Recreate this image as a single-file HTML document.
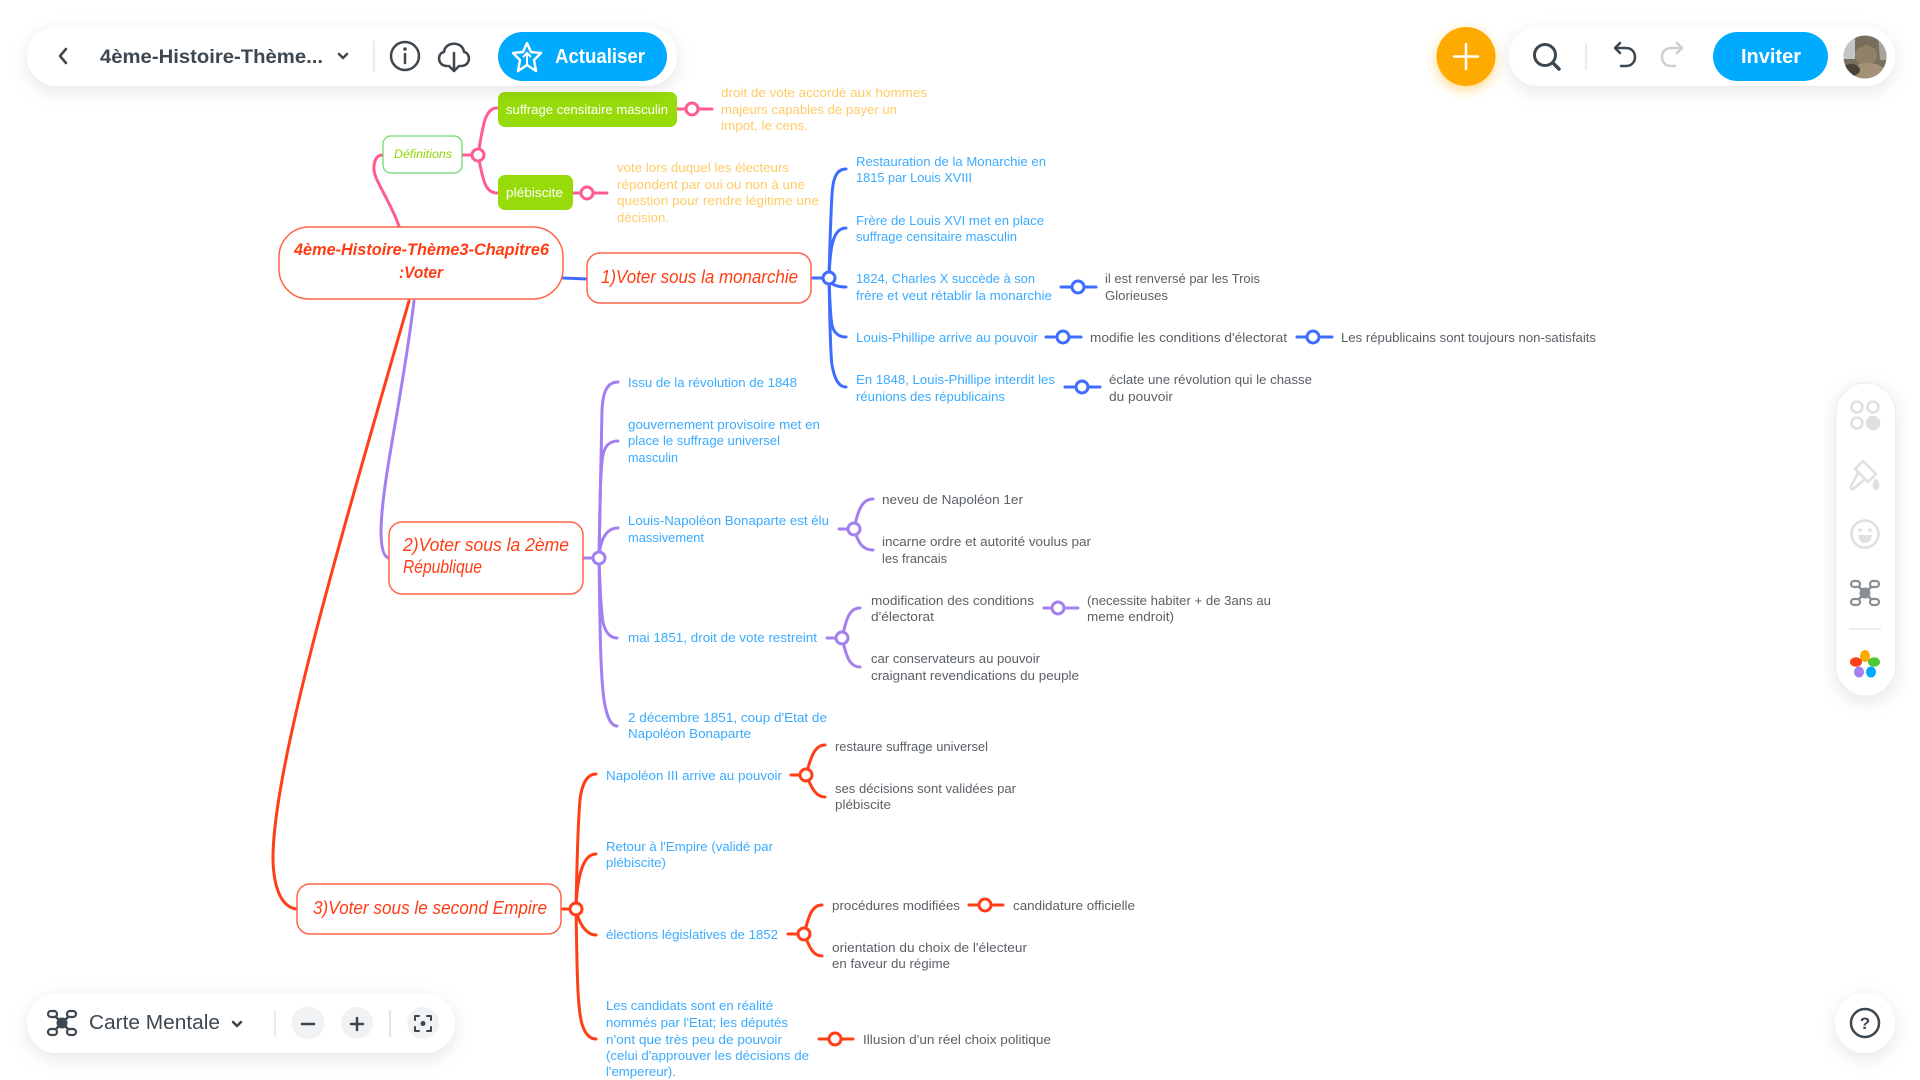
<!DOCTYPE html>
<html lang="fr">
<head>
<meta charset="utf-8">
<title>4ème-Histoire-Thème3-Chapitre6 :Voter</title>
<style>
html,body{margin:0;padding:0;background:#fff;width:1920px;height:1080px;overflow:hidden}
svg{display:block;position:absolute;left:0;top:0}
text{font-family:"Liberation Sans",sans-serif;font-size:13px}
.b{fill:#3aabff}.d{fill:#5a6066}.o{fill:#ffcb66}
.h{font-style:italic;fill:#ff3d14;font-size:18px}
.ln{fill:none;stroke-width:3;stroke-linecap:round}
.blue{stroke:#3f6dff}.pur{stroke:#a37ff0}.red{stroke:#ff3f17}.pink{stroke:#ff5c8f}
.j{fill:#fff;stroke-width:3}
.node{fill:#fff;stroke:#ff6547;stroke-width:1.5}
.ui{fill:none;stroke:#3d4750;stroke-width:2.5;stroke-linecap:round;stroke-linejoin:round}
</style>
</head>
<body>
<svg width="1920" height="1080" viewBox="0 0 1920 1080">
<defs>
<filter id="sh" x="-20%" y="-50%" width="140%" height="220%"><feDropShadow dx="0" dy="5" stdDeviation="9" flood-color="#000" flood-opacity=".1"/></filter>
<filter id="osh" x="-50%" y="-50%" width="200%" height="200%"><feDropShadow dx="0" dy="4" stdDeviation="6" flood-color="#ffaa00" flood-opacity=".45"/></filter>
<clipPath id="av"><circle cx="1865" cy="57" r="21.5"/></clipPath>
</defs>

<!-- main links -->
<path class="ln pink" d="M399,226 C388,196 372,178 374,166 Q375,155 383,155"/>
<path class="ln blue" d="M563,278 L587,279"/>
<path class="ln pur" d="M414,301 C402,400 382,480 381,530 Q381,557 389,558"/>
<path class="ln red" d="M409,301 C340,540 272,770 273,860 C274,895 285,908 297,909"/>

<!-- definitions group -->
<g>
<path class="ln pink" d="M462,155 L478,155"/>
<path class="ln pink" d="M478,155 C483,125 485,108 497,108"/>
<path class="ln pink" d="M478,155 C483,180 485,193 497,193"/>
<path class="ln pink" d="M677,109 L712,109"/>
<path class="ln pink" d="M573,193 L607,193"/>
<circle class="j pink" cx="478" cy="155" r="6"/>
<circle class="j pink" cx="692" cy="109" r="6"/>
<circle class="j pink" cx="587" cy="193" r="6"/>
</g>
<rect x="383" y="136" width="79" height="37" rx="8" fill="#fff" stroke="#6fd86f" stroke-width="1.3"/>
<text x="394" y="158" textLength="58" lengthAdjust="spacingAndGlyphs" font-style="italic" style="fill:#8fd400;font-size:12px">Définitions</text>
<rect x="498" y="92" width="179" height="35" rx="7" fill="#97dc0a"/>
<text x="506" y="114" textLength="162" lengthAdjust="spacingAndGlyphs" style="fill:#fff">suffrage censitaire masculin</text>
<rect x="498" y="175" width="75" height="35" rx="7" fill="#97dc0a"/>
<text x="506" y="197" textLength="57" lengthAdjust="spacingAndGlyphs" style="fill:#fff">plébiscite</text>
<g>
<text class="o" x="721" y="97" textLength="206" lengthAdjust="spacingAndGlyphs">droit de vote accordé aux hommes</text>
<text class="o" x="721" y="114" textLength="176" lengthAdjust="spacingAndGlyphs">majeurs capables de payer un</text>
<text class="o" x="721" y="130" textLength="87" lengthAdjust="spacingAndGlyphs">impot, le cens.</text>
</g>
<g>
<text class="o" x="617" y="172" textLength="172" lengthAdjust="spacingAndGlyphs">vote lors duquel les électeurs</text>
<text class="o" x="617" y="189" textLength="188" lengthAdjust="spacingAndGlyphs">répondent par oui ou non à une</text>
<text class="o" x="617" y="205" textLength="202" lengthAdjust="spacingAndGlyphs">question pour rendre légitime une</text>
<text class="o" x="617" y="222" textLength="52" lengthAdjust="spacingAndGlyphs">décision.</text>
</g>

<!-- root -->
<rect class="node" x="279" y="227" width="284" height="72" rx="30"/>
<g>
<text class="h" x="294" y="255" textLength="255" lengthAdjust="spacingAndGlyphs" font-weight="bold" style="font-size:17px">4ème-Histoire-Thème3-Chapitre6</text>
<text class="h" x="399" y="278" textLength="44" lengthAdjust="spacingAndGlyphs" font-weight="bold" style="font-size:17px">:Voter</text>
</g>

<!-- section 1 -->
<g>
<path class="ln blue" d="M811,278 L829,278"/>
<path class="ln blue" d="M829,278 C830,240 831,210 832,195 C833,175 838,169 846,169"/>
<path class="ln blue" d="M829,278 C830,250 832,228 846,228"/>
<path class="ln blue" d="M829,278 C830,284 836,287 846,287"/>
<path class="ln blue" d="M829,278 C830,300 830,315 832,325 C834,334 840,337 846,337"/>
<path class="ln blue" d="M829,278 C830,320 830,350 832,365 C835,382 840,387 846,387"/>
<path class="ln blue" d="M1061,287 L1096,287"/><circle class="j blue" cx="1078" cy="287" r="6"/>
<path class="ln blue" d="M1046,337 L1081,337"/><circle class="j blue" cx="1063" cy="337" r="6"/>
<path class="ln blue" d="M1297,337 L1332,337"/><circle class="j blue" cx="1313" cy="337" r="6"/>
<path class="ln blue" d="M1065,387 L1100,387"/><circle class="j blue" cx="1082" cy="387" r="6"/>
<circle class="j blue" cx="829" cy="278" r="6"/>
</g>
<rect class="node" x="587" y="253" width="224" height="50" rx="13"/>
<text class="h" x="601" y="283" textLength="197" lengthAdjust="spacingAndGlyphs">1)Voter sous la monarchie</text>
<text class="b" x="856" y="166" textLength="190" lengthAdjust="spacingAndGlyphs">Restauration de la Monarchie en</text>
<text class="b" x="856" y="182" textLength="116" lengthAdjust="spacingAndGlyphs">1815 par Louis XVIII</text>
<text class="b" x="856" y="225" textLength="188" lengthAdjust="spacingAndGlyphs">Frère de Louis XVI met en place</text>
<text class="b" x="856" y="241" textLength="161" lengthAdjust="spacingAndGlyphs">suffrage censitaire masculin</text>
<text class="b" x="856" y="283" textLength="179" lengthAdjust="spacingAndGlyphs">1824, Charles X succède à son</text>
<text class="b" x="856" y="300" textLength="196" lengthAdjust="spacingAndGlyphs">frère et veut rétablir la monarchie</text>
<text class="b" x="856" y="342" textLength="182" lengthAdjust="spacingAndGlyphs">Louis-Phillipe arrive au pouvoir</text>
<text class="b" x="856" y="384" textLength="199" lengthAdjust="spacingAndGlyphs">En 1848, Louis-Phillipe interdit les</text>
<text class="b" x="856" y="401" textLength="149" lengthAdjust="spacingAndGlyphs">réunions des républicains</text>
<text class="d" x="1105" y="283" textLength="155" lengthAdjust="spacingAndGlyphs">il est renversé par les Trois</text>
<text class="d" x="1105" y="300" textLength="63" lengthAdjust="spacingAndGlyphs">Glorieuses</text>
<text class="d" x="1090" y="342" textLength="197" lengthAdjust="spacingAndGlyphs">modifie les conditions d'électorat</text>
<text class="d" x="1341" y="342" textLength="255" lengthAdjust="spacingAndGlyphs">Les républicains sont toujours non-satisfaits</text>
<text class="d" x="1109" y="384" textLength="203" lengthAdjust="spacingAndGlyphs">éclate une révolution qui le chasse</text>
<text class="d" x="1109" y="401" textLength="64" lengthAdjust="spacingAndGlyphs">du pouvoir</text>

<!-- section 2 -->
<g>
<path class="ln pur" d="M583,558 L599,558"/>
<path class="ln pur" d="M599,558 C600,490 601,440 602,410 C603,390 608,382 618,382"/>
<path class="ln pur" d="M599,558 C600,510 600,470 603,455 C605,445 610,441 618,441"/>
<path class="ln pur" d="M599,558 C600,540 606,528 618,528"/>
<path class="ln pur" d="M599,558 C600,590 601,610 603,622 C605,632 610,638 617,638"/>
<path class="ln pur" d="M599,558 C600,620 600,670 604,700 C607,718 611,726 617,726"/>
<path class="ln pur" d="M839,529 L854,529"/>
<path class="ln pur" d="M854,529 C858,510 862,499 873,499"/>
<path class="ln pur" d="M854,529 C858,542 862,550 873,550"/>
<path class="ln pur" d="M827,638 L842,638"/>
<path class="ln pur" d="M842,638 C846,620 849,608 860,608"/>
<path class="ln pur" d="M842,638 C846,655 849,667 860,667"/>
<path class="ln pur" d="M1044,608 L1078,608"/><circle class="j pur" cx="1058" cy="608" r="6"/>
<circle class="j pur" cx="599" cy="558" r="6"/>
<circle class="j pur" cx="854" cy="529" r="6"/>
<circle class="j pur" cx="842" cy="638" r="6"/>
</g>
<rect class="node" x="389" y="522" width="194" height="72" rx="13"/>
<g>
<text class="h" x="403" y="551" textLength="166" lengthAdjust="spacingAndGlyphs">2)Voter sous la 2ème</text>
<text class="h" x="403" y="573" textLength="79" lengthAdjust="spacingAndGlyphs">République</text>
</g>
<text class="b" x="628" y="387" textLength="169" lengthAdjust="spacingAndGlyphs">Issu de la révolution de 1848</text>
<text class="b" x="628" y="429" textLength="192" lengthAdjust="spacingAndGlyphs">gouvernement provisoire met en</text>
<text class="b" x="628" y="445" textLength="152" lengthAdjust="spacingAndGlyphs">place le suffrage universel</text>
<text class="b" x="628" y="462" textLength="50" lengthAdjust="spacingAndGlyphs">masculin</text>
<text class="b" x="628" y="525" textLength="201" lengthAdjust="spacingAndGlyphs">Louis-Napoléon Bonaparte est élu</text>
<text class="b" x="628" y="542" textLength="76" lengthAdjust="spacingAndGlyphs">massivement</text>
<text class="b" x="628" y="642" textLength="189" lengthAdjust="spacingAndGlyphs">mai 1851, droit de vote restreint</text>
<text class="b" x="628" y="722" textLength="199" lengthAdjust="spacingAndGlyphs">2 décembre 1851, coup d'Etat de</text>
<text class="b" x="628" y="738" textLength="123" lengthAdjust="spacingAndGlyphs">Napoléon Bonaparte</text>
<text class="d" x="882" y="504" textLength="141" lengthAdjust="spacingAndGlyphs">neveu de Napoléon 1er</text>
<text class="d" x="882" y="546" textLength="209" lengthAdjust="spacingAndGlyphs">incarne ordre et autorité voulus par</text>
<text class="d" x="882" y="563" textLength="65" lengthAdjust="spacingAndGlyphs">les francais</text>
<text class="d" x="871" y="605" textLength="163" lengthAdjust="spacingAndGlyphs">modification des conditions</text>
<text class="d" x="871" y="621" textLength="63" lengthAdjust="spacingAndGlyphs">d'électorat</text>
<text class="d" x="1087" y="605" textLength="184" lengthAdjust="spacingAndGlyphs">(necessite habiter + de 3ans au</text>
<text class="d" x="1087" y="621" textLength="87" lengthAdjust="spacingAndGlyphs">meme endroit)</text>
<text class="d" x="871" y="663" textLength="169" lengthAdjust="spacingAndGlyphs">car conservateurs au pouvoir</text>
<text class="d" x="871" y="680" textLength="208" lengthAdjust="spacingAndGlyphs">craignant revendications du peuple</text>

<!-- section 3 -->
<g>
<path class="ln red" d="M561,909 L576,909"/>
<path class="ln red" d="M576,909 C577,860 578,820 580,800 C582,782 588,774 596,774"/>
<path class="ln red" d="M576,909 C577,880 582,854 596,854"/>
<path class="ln red" d="M576,909 C578,922 586,935 596,935"/>
<path class="ln red" d="M576,909 C577,960 577,1000 581,1020 C584,1034 590,1039 596,1039"/>
<path class="ln red" d="M791,775 L806,775"/>
<path class="ln red" d="M806,775 C811,756 815,745 825,745"/>
<path class="ln red" d="M806,775 C811,786 815,797 825,797"/>
<path class="ln red" d="M788,934 L804,934"/>
<path class="ln red" d="M804,934 C809,915 812,905 822,905"/>
<path class="ln red" d="M804,934 C809,945 812,956 822,956"/>
<path class="ln red" d="M969,905 L1003,905"/><circle class="j red" cx="985" cy="905" r="6"/>
<path class="ln red" d="M819,1039 L853,1039"/><circle class="j red" cx="835" cy="1039" r="6"/>
<circle class="j red" cx="576" cy="909" r="6"/>
<circle class="j red" cx="806" cy="775" r="6"/>
<circle class="j red" cx="804" cy="934" r="6"/>
</g>
<rect class="node" x="297" y="884" width="264" height="50" rx="13"/>
<text class="h" x="313" y="914" textLength="234" lengthAdjust="spacingAndGlyphs">3)Voter sous le second Empire</text>
<text class="b" x="606" y="780" textLength="176" lengthAdjust="spacingAndGlyphs">Napoléon III arrive au pouvoir</text>
<text class="b" x="606" y="851" textLength="167" lengthAdjust="spacingAndGlyphs">Retour à l'Empire (validé par</text>
<text class="b" x="606" y="867" textLength="60" lengthAdjust="spacingAndGlyphs">plébiscite)</text>
<text class="b" x="606" y="939" textLength="172" lengthAdjust="spacingAndGlyphs">élections législatives de 1852</text>
<g>
<text class="b" x="606" y="1010" textLength="167" lengthAdjust="spacingAndGlyphs">Les candidats sont en réalité</text>
<text class="b" x="606" y="1027" textLength="182" lengthAdjust="spacingAndGlyphs">nommés par l'Etat; les députés</text>
<text class="b" x="606" y="1044" textLength="176" lengthAdjust="spacingAndGlyphs">n'ont que très peu de pouvoir</text>
<text class="b" x="606" y="1060" textLength="203" lengthAdjust="spacingAndGlyphs">(celui d'approuver les décisions de</text>
<text class="b" x="606" y="1076" textLength="70" lengthAdjust="spacingAndGlyphs">l'empereur).</text>
</g>
<text class="d" x="835" y="751" textLength="153" lengthAdjust="spacingAndGlyphs">restaure suffrage universel</text>
<text class="d" x="835" y="793" textLength="181" lengthAdjust="spacingAndGlyphs">ses décisions sont validées par</text>
<text class="d" x="835" y="809" textLength="56" lengthAdjust="spacingAndGlyphs">plébiscite</text>
<text class="d" x="832" y="910" textLength="128" lengthAdjust="spacingAndGlyphs">procédures modifiées</text>
<text class="d" x="1013" y="910" textLength="122" lengthAdjust="spacingAndGlyphs">candidature officielle</text>
<text class="d" x="832" y="952" textLength="195" lengthAdjust="spacingAndGlyphs">orientation du choix de l'électeur</text>
<text class="d" x="832" y="968" textLength="118" lengthAdjust="spacingAndGlyphs">en faveur du régime</text>
<text class="d" x="863" y="1044" textLength="188" lengthAdjust="spacingAndGlyphs">Illusion d'un réel choix politique</text>

<!-- top-left toolbar -->
<g>
<rect x="27" y="27" width="650" height="59" rx="29.5" fill="#fff" filter="url(#sh)"/>
<path class="ui" d="M66,49 L60,56 L66,63"/>
<text x="100" y="63" textLength="223" lengthAdjust="spacingAndGlyphs" style="font-size:19px;fill:#3d4750;font-weight:bold">4ème-Histoire-Thème...</text>
<path class="ui" d="M339,54 L343,58 L347,54"/>
<line x1="374" y1="41" x2="374" y2="72" stroke="#e2e4e6" stroke-width="1.5"/>
<g>
<circle class="ui" cx="405" cy="56" r="14"/>
<circle cx="405" cy="49" r="1.8" fill="#3d4750"/>
<path class="ui" d="M405,54 L405,63"/>
</g>
<g>
<path class="ui" d="M447,66 C437,66 437,53 444,52 C445,41 463,41 464,52 C471,53 471,66 461,66"/>
<path class="ui" d="M454,53 L454,71 M449,66 L454,71 L459,66"/>
</g>
<rect x="498" y="32" width="169" height="49" rx="24.5" fill="#00aaff"/>
<path d="M527,43 L531,52 L541,53 L534,60 L536,71 L527,65 L518,71 L520,60 L513,53 L523,52 Z" fill="none" stroke="#fff" stroke-width="2.5" stroke-linejoin="round"/>
<path d="M527,65 L527,53 M523,57 L527,53 L531,57" fill="none" stroke="#fff" stroke-width="2"/>
<text x="555" y="63" textLength="90" lengthAdjust="spacingAndGlyphs" style="font-size:20px;fill:#fff;font-weight:bold">Actualiser</text>
</g>

<!-- top-right toolbar -->
<circle cx="1466" cy="56.5" r="29.5" fill="#ffaa00" filter="url(#osh)"/>
<path d="M1466,44 L1466,69 M1454,56.5 L1478,56.5" stroke="#fff" stroke-width="2.5" stroke-linecap="round"/>
<g>
<rect x="1509" y="27" width="386" height="59" rx="29.5" fill="#fff" filter="url(#sh)"/>
<g>
<circle class="ui" cx="1545" cy="55" r="10.5" style="stroke-width:3"/>
<path class="ui" d="M1553,63 L1559,69" style="stroke-width:3.5"/>
</g>
<line x1="1586" y1="43" x2="1586" y2="70" stroke="#e2e4e6" stroke-width="1.5"/>
<path class="ui" d="M1620,43 L1615,48 L1620,53 M1616,48 L1626,48 C1638,48 1638,66 1626,66 L1621,66"/>
<path class="ui" d="M1677,43 L1682,48 L1677,53 M1681,48 L1671,48 C1659,48 1659,66 1671,66 L1675,66" style="stroke:#ccd0d3"/>
<rect x="1713" y="32" width="115" height="49" rx="24.5" fill="#00aaff"/>
<text x="1771" y="63" text-anchor="middle" textLength="60" lengthAdjust="spacingAndGlyphs" style="font-size:20px;fill:#fff;font-weight:bold">Inviter</text>
<g clip-path="url(#av)">
<rect x="1843" y="35" width="44" height="44" fill="#77705f"/>
<rect x="1843" y="35" width="12" height="24" fill="#c4c6c6"/>
<path d="M1878,35 L1887,35 L1887,60 L1880,60 Z" fill="#a8a49c"/>
<ellipse cx="1866" cy="55" rx="11" ry="10" fill="#8f8268"/>
<path d="M1856,49 L1856,38 L1864,46 Z M1876,49 L1877,38 L1869,46 Z" fill="#7a6d58"/>
<ellipse cx="1868" cy="72" rx="17" ry="9" fill="#a39276"/>
<ellipse cx="1851" cy="70" rx="9" ry="6" fill="#4c4338"/>
</g>
</g>

<!-- bottom-left toolbar -->
<g>
<rect x="27" y="994" width="428" height="59" rx="29.5" fill="#fff" filter="url(#sh)"/>
<g>
<path d="M54,1015 L70,1031 M70,1015 L54,1031" stroke="#3d4750" stroke-width="2.5"/>
<circle cx="62" cy="1023" r="5.5" fill="#3d4750"/>
<rect x="48" y="1011" width="9" height="6" rx="3" fill="#fff" stroke="#3d4750" stroke-width="2.2"/>
<rect x="67" y="1011" width="9" height="6" rx="3" fill="#fff" stroke="#3d4750" stroke-width="2.2"/>
<rect x="48" y="1029" width="9" height="6" rx="3" fill="#fff" stroke="#3d4750" stroke-width="2.2"/>
<rect x="67" y="1029" width="9" height="6" rx="3" fill="#fff" stroke="#3d4750" stroke-width="2.2"/>
</g>
<text x="89" y="1029" textLength="131" lengthAdjust="spacingAndGlyphs" style="font-size:20px;fill:#3d4750">Carte Mentale</text>
<path class="ui" d="M233,1022 L237,1026 L241,1022"/>
<line x1="275" y1="1010" x2="275" y2="1037" stroke="#e2e4e6" stroke-width="1.5"/>
<circle cx="308" cy="1023" r="16.5" fill="#f1f2f3"/>
<path class="ui" d="M302,1024 L314,1024"/>
<circle cx="357" cy="1023" r="16" fill="#f1f2f3"/>
<path class="ui" d="M351,1024 L363,1024 M357,1018 L357,1030"/>
<line x1="390" y1="1010" x2="390" y2="1037" stroke="#e2e4e6" stroke-width="2"/>
<circle cx="423" cy="1023" r="16" fill="#f1f2f3"/>
<path class="ui" d="M415,1020 L415,1016 L419,1016 M427,1016 L431,1016 L431,1020 M431,1027 L431,1031 L427,1031 M419,1031 L415,1031 L415,1027" style="stroke-width:2"/>
<circle cx="423" cy="1023.5" r="2.5" fill="#3d4750"/>
</g>

<!-- help -->
<circle cx="1865" cy="1023" r="30" fill="#fff" filter="url(#sh)"/>
<circle class="ui" cx="1865" cy="1023" r="14"/>
<text x="1865" y="1029" text-anchor="middle" style="font-size:17px;font-weight:bold;fill:#3d4750">?</text>

<!-- right sidebar -->
<g>
<rect x="1836" y="383" width="59.5" height="313" rx="29.7" fill="#fff" stroke="#ececec" stroke-width="1" filter="url(#sh)"/>
<g fill="none" stroke="#dde1e3" stroke-width="2.6">
<circle cx="1857" cy="407" r="5.5"/><circle cx="1873" cy="407" r="5.5"/><circle cx="1857" cy="423" r="5.5"/><circle cx="1873" cy="423" r="6" fill="#dde1e3"/>
</g>
<g fill="none" stroke="#dde1e3" stroke-width="2.6" stroke-linejoin="round" stroke-linecap="round">
<path d="M1863,461 L1876,474 L1868,482 L1855,469 Z"/>
<path d="M1858,473 L1851,486 Q1850,489 1853,489 L1864,480"/>
<path d="M1876,480 Q1872,486 1876,489 Q1880,486 1876,480 Z" fill="#dde1e3"/>
</g>
<g>
<circle cx="1865" cy="534" r="13.5" fill="none" stroke="#dde1e3" stroke-width="2.6"/>
<circle cx="1860" cy="530" r="1.8" fill="#dde1e3"/><circle cx="1870" cy="530" r="1.8" fill="#dde1e3"/>
<path d="M1858,535 L1872,535 Q1871,543 1865,543 Q1859,543 1858,535 Z" fill="#dde1e3"/>
</g>
<g>
<path d="M1857,585 L1873,601 M1873,585 L1857,601" stroke="#888f94" stroke-width="2.5"/>
<circle cx="1865" cy="593" r="5.5" fill="#888f94"/>
<rect x="1851" y="581" width="9" height="6" rx="3" fill="#fff" stroke="#888f94" stroke-width="2.2"/>
<rect x="1870" y="581" width="9" height="6" rx="3" fill="#fff" stroke="#888f94" stroke-width="2.2"/>
<rect x="1851" y="599" width="9" height="6" rx="3" fill="#fff" stroke="#888f94" stroke-width="2.2"/>
<rect x="1870" y="599" width="9" height="6" rx="3" fill="#fff" stroke="#888f94" stroke-width="2.2"/>
</g>
<line x1="1849" y1="629" x2="1881" y2="629" stroke="#e4e6e8" stroke-width="1.5"/>
<g>
<ellipse cx="1865" cy="656" rx="5" ry="6" fill="#ffaa00"/>
<ellipse cx="1856" cy="662" rx="6" ry="4.8" fill="#ff3f17"/>
<ellipse cx="1874" cy="662" rx="6" ry="4.8" fill="#4fc832"/>
<ellipse cx="1859" cy="672" rx="5" ry="5.5" fill="#a37ff0"/>
<ellipse cx="1871" cy="672" rx="5" ry="5.5" fill="#00aaff"/>
</g>
</g>
</svg>
</body>
</html>
